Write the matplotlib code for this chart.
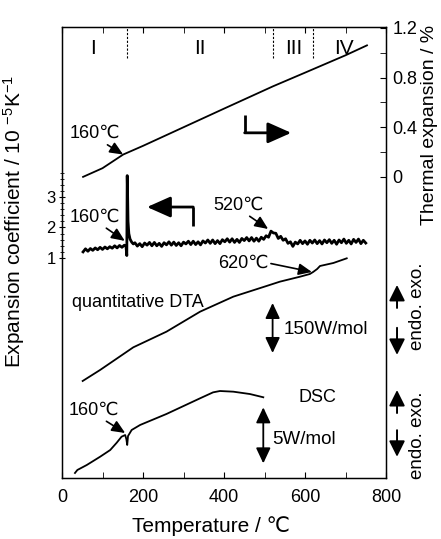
import matplotlib
matplotlib.use('Agg')
import matplotlib.pyplot as plt
from matplotlib.ticker import FixedLocator, NullFormatter
import matplotlib.transforms as mtransforms

plt.rcParams['font.family'] = ['Liberation Sans', 'DejaVu Sans']
plt.rcParams['mathtext.default'] = 'regular'

# thermal expansion, %  (right axis)
te_T = [52, 100, 151, 200, 300, 400, 521, 600, 700, 753]
te_val = [0.0, 0.07, 0.18, 0.25, 0.40, 0.55, 0.73, 0.84, 0.98, 1.06]

# expansion coefficient, 10^-5 K^-1 (left axis)
ec_T = [52, 58, 64, 70, 76, 82, 88, 94, 100, 106, 112, 118, 124, 130, 136, 142,
        148, 154, 158, 160, 161, 162, 163, 165, 168, 172, 176] + list(range(180, 751, 6))
ec_val = [1.20, 1.30, 1.22, 1.31, 1.25, 1.33, 1.27, 1.35, 1.28, 1.36, 1.30, 1.37,
          1.32, 1.40, 1.33, 1.41, 1.35, 1.42, 1.38, 1.08, 3.70, 3.05, 2.20, 1.80,
          1.62, 1.52, 1.46,
          1.50, 1.39, 1.47, 1.37, 1.49, 1.42, 1.51, 1.40, 1.51, 1.40, 1.48, 1.38,
          1.50, 1.43, 1.53, 1.42, 1.52, 1.41, 1.50, 1.40, 1.52, 1.46, 1.55, 1.44,
          1.55, 1.44, 1.53, 1.43, 1.56, 1.49, 1.59, 1.48, 1.59, 1.47, 1.57, 1.47,
          1.60, 1.53, 1.63, 1.52, 1.63, 1.51, 1.61, 1.51, 1.64, 1.57, 1.67, 1.56,
          1.67, 1.55, 1.65, 1.55, 1.68, 1.61, 1.73, 1.68, 1.88, 1.82, 1.81, 1.64,
          1.71, 1.58, 1.63, 1.48, 1.53, 1.38, 1.52, 1.46, 1.58, 1.47, 1.56, 1.45,
          1.58, 1.49, 1.59, 1.47, 1.57, 1.46, 1.59, 1.50, 1.60, 1.48, 1.58, 1.45,
          1.59, 1.50, 1.62, 1.48, 1.58, 1.46, 1.61, 1.51, 1.62, 1.47, 1.58, 1.49]

# quantitative DTA, W/mol (relative)
dta_T = [51, 94, 176, 258, 341, 423, 505, 538, 588, 612, 620, 630, 637, 670, 703]
dta_val = [0, 33, 101, 148, 208, 253, 285, 298, 313, 321, 327, 336, 345, 354, 368]

# DSC, W/mol (relative)
dsc_T = [32, 38, 61, 94, 119, 135, 147, 156, 159, 161, 163, 172, 193, 258, 341,
         373, 390, 423, 464, 497]
dsc_val = [0.0, 0.27, 0.71, 1.45, 2.05, 2.70, 3.24, 3.39, 3.00, 2.50, 3.30, 3.84,
           4.29, 5.27, 6.67, 7.20, 7.32, 7.26, 7.05, 6.76]

regions = ['I', 'II', 'III', 'IV']
region_T = [77, 341, 571, 695]
boundaries = [160, 520, 620]

fig = plt.figure(figsize=(4.41, 5.39), dpi=100)
ax = fig.add_axes([0.1406, 0.1132, 0.7347, 0.8367])
ax2 = ax.twinx()
ax3 = ax.twinx()
ax4 = ax.twinx()
for a in (ax3, ax4):
    a.yaxis.set_visible(False)
    for s in a.spines.values():
        s.set_visible(False)

k = 'black'
lw = 1.3

ax.set_xlim(0, 800)
ax.set_ylim(-6.21, 8.57)
ax2.set_ylim(-2.427, 1.208)
ax3.set_ylim(-291, 1062)
ax4.set_ylim(-0.446, 39.82)

ax2.plot(te_T, te_val, color=k, lw=lw)
ax.plot(ec_T, ec_val, color=k, lw=2.0)
ax3.plot(dta_T, dta_val, color=k, lw=lw)
ax4.plot(dsc_T, dsc_val, color=k, lw=lw)

# x ticks
ax.xaxis.set_major_locator(FixedLocator([0, 200, 400, 600, 800]))
ax.xaxis.set_minor_locator(FixedLocator([100, 300, 500, 700]))
ax.tick_params(axis='x', which='both', direction='in', length=4.5, top=True,
               labelsize=13, pad=8)
ax.set_xlabel('Temperature / ℃', fontsize=15)
ax.xaxis.set_label_coords(0.46, -0.085)

# left ticks
ax.yaxis.set_major_locator(FixedLocator([1, 2, 3]))
ax.yaxis.set_minor_locator(FixedLocator([1.2, 1.4, 1.6, 1.8, 2.2, 2.4, 2.6, 2.8,
                                         3.2, 3.4, 3.6, 3.8]))
ax.tick_params(axis='y', which='major', direction='inout', length=5, labelsize=12, pad=2)
ax.tick_params(axis='y', which='minor', direction='inout', length=3.5)
ax.set_ylabel('Expansion coefficient / 10 $^{-5}$K$^{-1}$', fontsize=15)
ax.yaxis.set_label_coords(-0.108, 0.568)

# right ticks
ax2.yaxis.set_major_locator(FixedLocator([0, 0.4, 0.8, 1.2]))
ax2.yaxis.set_minor_locator(FixedLocator([0.2, 0.6, 1.0]))
ax2.yaxis.set_minor_formatter(NullFormatter())
ax2.set_yticklabels(['0', '0.4', '0.8', '1.2'])
ax2.tick_params(axis='y', which='both', direction='in', length=4.5, labelsize=13, pad=4.5)
ax2.set_ylabel('Thermal expansion / %', fontsize=14, rotation=90)
ax2.yaxis.set_label_coords(1.108, 0.783)

for s in ax.spines.values():
    s.set_linewidth(1.0)

# region boundaries and labels
trans = mtransforms.blended_transform_factory(ax.transData, ax.transAxes)
for b in boundaries:
    ax.axvline(b, ymin=0.931, ymax=1, color=k, lw=0.8, ls=(0, (2, 1.5)))
for r, t in zip(regions, region_T):
    ax.text(t, 0.953, r, transform=trans, ha='center', va='center', fontsize=15)

# annotations with arrows
aprops = dict(arrowstyle='-|>,head_length=0.8,head_width=0.35', color=k, lw=1.2,
              mutation_scale=10, shrinkA=0, shrinkB=0, relpos=(0.6, 0.1))
ax2.annotate('160℃', xy=(151, 0.18), xytext=(-28, 21), textcoords='offset pixels',
             ha='center', va='center', fontsize=13, arrowprops=aprops)
ax.annotate('160℃', xy=(155, 1.56), xytext=(-30, 24), textcoords='offset pixels',
            ha='center', va='center', fontsize=13, arrowprops=aprops)
ax.annotate('520℃', xy=(509, 1.95), xytext=(-30, 24), textcoords='offset pixels',
            ha='center', va='center', fontsize=13, arrowprops=aprops)
ax3.annotate('620℃', xy=(617, 327), xytext=(-69, 9), textcoords='offset pixels',
             ha='center', va='center', fontsize=13,
             arrowprops=dict(aprops, relpos=(1.0, 0.5)))
ax4.annotate('160℃', xy=(156, 3.57), xytext=(-31, 23), textcoords='offset pixels',
             ha='center', va='center', fontsize=13, arrowprops=aprops)

# bracket arrows
bprops = dict(arrowstyle='-|>,head_length=0.72,head_width=0.32', color=k, lw=2,
              mutation_scale=20, shrinkA=0, shrinkB=0)
ax2.plot([452, 452], [0.50, 0.355], color=k, lw=2, solid_capstyle='butt')
ax2.annotate('', xy=(566, 0.355), xytext=(451, 0.355), arrowprops=bprops)
ax.plot([323, 323], [2.05, 2.67], color=k, lw=2, solid_capstyle='butt')
ax.annotate('', xy=(210, 2.67), xytext=(324, 2.67), arrowprops=bprops)

# scale bars
sprops = dict(arrowstyle='<|-|>,head_length=0.85,head_width=0.4', color=k, lw=1.3,
              mutation_scale=11, shrinkA=0, shrinkB=0)
ax3.annotate('', xy=(520, 234), xytext=(520, 84), arrowprops=sprops)
ax4.annotate('', xy=(497, 5.86), xytext=(497, 0.86), arrowprops=sprops)
ax3.text(25, 234, 'quantitative DTA', ha='left', va='center', fontsize=13)
ax3.text(546, 153, '150W/mol', ha='left', va='center', fontsize=13.5)
ax4.text(630, 6.7, 'DSC', ha='center', va='center', fontsize=13)
ax4.text(519, 2.95, '5W/mol', ha='left', va='center', fontsize=13.5)

# endo / exo markers
eprops = dict(arrowstyle='-|>,head_length=0.8,head_width=0.4', color=k, lw=1.4,
              mutation_scale=12, shrinkA=0, shrinkB=0)
for up_tip, up_base, dn_base, dn_tip, ty in [(0.428, 0.377, 0.333, 0.273, 0.381),
                                             (0.195, 0.144, 0.106, 0.047, 0.095)]:
    ax.annotate('', xy=(1.034, up_tip), xytext=(1.034, up_base), xycoords='axes fraction',
                arrowprops=eprops, annotation_clip=False)
    ax.annotate('', xy=(1.034, dn_tip), xytext=(1.034, dn_base), xycoords='axes fraction',
                arrowprops=eprops, annotation_clip=False)
    ax.text(1.096, ty, 'endo. exo.', transform=ax.transAxes, rotation=90,
            ha='center', va='center', fontsize=13.5)

fig.savefig('out.png', dpi=100)
